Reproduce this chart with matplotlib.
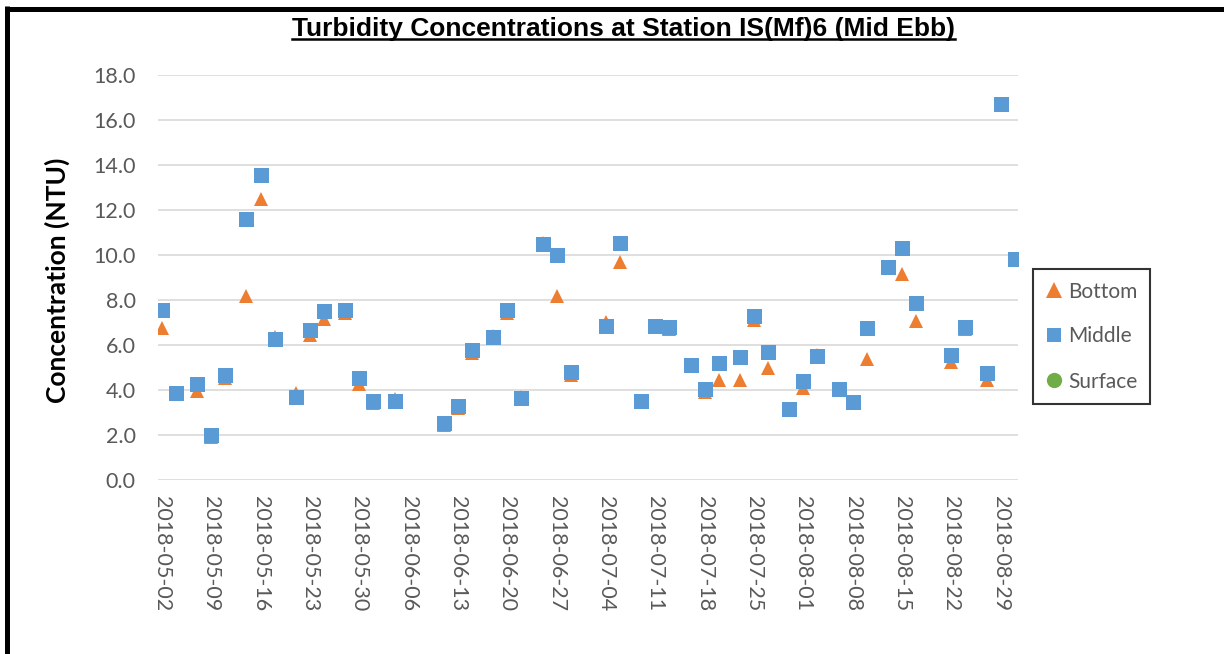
import matplotlib
matplotlib.use("Agg")
import matplotlib.pyplot as plt
from matplotlib.lines import Line2D
import datetime as dt

dates = ["2018-05-02", "2018-05-04", "2018-05-07", "2018-05-09", "2018-05-11",
         "2018-05-14", "2018-05-16", "2018-05-18", "2018-05-21", "2018-05-23",
         "2018-05-25", "2018-05-28", "2018-05-30", "2018-06-01", "2018-06-04",
         "2018-06-11", "2018-06-13", "2018-06-15", "2018-06-18", "2018-06-20",
         "2018-06-22", "2018-06-25", "2018-06-27", "2018-06-29", "2018-07-04",
         "2018-07-06", "2018-07-09", "2018-07-11", "2018-07-13", "2018-07-16",
         "2018-07-18", "2018-07-20", "2018-07-23", "2018-07-25", "2018-07-27",
         "2018-07-30", "2018-08-01", "2018-08-03", "2018-08-06", "2018-08-08",
         "2018-08-10", "2018-08-13", "2018-08-15", "2018-08-17", "2018-08-22",
         "2018-08-24", "2018-08-27", "2018-08-29", "2018-08-31"]

bottom = [6.75, 3.8, 3.94, 1.91, 4.53,
          8.15, 12.46, 6.34, 3.85, 6.44,
          7.14, 7.4, 4.24, 3.4, 3.59,
          2.44, 3.2, 5.64, 6.37, 7.4,
          3.68, 10.52, 8.15, 4.64, 7.0,
          9.69, 3.45, 6.8, 6.68, 5.05,
          3.9, 4.44, 4.44, 7.1, 4.98,
          3.12, 4.06, 5.54, 4.0, 3.4,
          5.35, 9.4, 9.14, 7.04, 5.24,
          6.68, 4.44, 16.65, 9.75]

middle = [7.54, 3.84, 4.25, 1.99, 4.64,
          11.59, 13.56, 6.24, 3.69, 6.64,
          7.48, 7.54, 4.53, 3.48, 3.48,
          2.51, 3.28, 5.76, 6.36, 7.54,
          3.63, 10.46, 9.99, 4.79, 6.83,
          10.51, 3.51, 6.83, 6.79, 5.08,
          4.04, 5.2, 5.47, 7.28, 5.69,
          3.16, 4.39, 5.48, 4.04, 3.47,
          6.76, 9.45, 10.3, 7.84, 5.54,
          6.79, 4.74, 16.7, 9.81]

surface = []  # no surface data plotted

tick_dates = ["2018-05-02", "2018-05-09", "2018-05-16", "2018-05-23", "2018-05-30",
              "2018-06-06", "2018-06-13", "2018-06-20", "2018-06-27", "2018-07-04",
              "2018-07-11", "2018-07-18", "2018-07-25", "2018-08-01", "2018-08-08",
              "2018-08-15", "2018-08-22", "2018-08-29"]
y_ticks = [0, 2, 4, 6, 8, 10, 12, 14, 16, 18]

ORANGE = "#ED7D31"
BLUE = "#5B9BD5"
GREEN = "#70AD47"
GRAY = "#595959"

W, H = 1224, 654
fig = plt.figure(figsize=(W / 100, H / 100), dpi=100)
fig.patch.set_facecolor("white")

x = [dt.datetime.strptime(d, "%Y-%m-%d") for d in dates]
xt = [dt.datetime.strptime(d, "%Y-%m-%d") for d in tick_dates]

ax = fig.add_axes([158 / W, 1 - 479.7 / H, (1018 - 158) / W, (479.7 - 74.7) / H])
ax.plot(x, bottom, linestyle="none", marker="^", ms=10.5, color=ORANGE,
        markeredgewidth=0, label="Bottom", zorder=3)
ax.plot(x, middle, linestyle="none", marker="s", ms=10.8, color=BLUE,
        markeredgewidth=0, label="Middle", zorder=4)
ax.plot(surface, surface, linestyle="none", marker="o", ms=10, color=GREEN,
        markeredgewidth=0, label="Surface")

ax.set_ylim(0, 18)
ax.set_yticks(y_ticks)
ax.set_yticklabels([f"{v:.1f}" for v in y_ticks])
ax.set_xlim(x[0] - dt.timedelta(days=0.55), x[-1] + dt.timedelta(days=0.45))
ax.set_xticks(xt)
ax.set_xticklabels(tick_dates, rotation=270)

ax.grid(axis="y", color="#D9D9D9", linewidth=1.2)
ax.set_axisbelow(True)
for s in ax.spines.values():
    s.set_visible(False)
ax.tick_params(axis="both", length=0, colors=GRAY, labelsize=15.5)
ax.tick_params(axis="x", pad=12)
ax.tick_params(axis="y", pad=16)
for lbl in ax.get_xticklabels() + ax.get_yticklabels():
    lbl.set_fontfamily(["Lato", "DejaVu Sans"])

fig.text(57 / W, 1 - 280 / H, "Concentration (NTU)", rotation=90, ha="center",
         va="center", fontsize=19, fontweight="bold", family=["Lato", "DejaVu Sans"],
         color="black")

title = fig.text(623.5 / W, 1 - 29 / H, "Turbidity Concentrations at Station IS(Mf)6 (Mid Ebb)",
                 ha="center", va="center", fontsize=19, fontweight="bold",
                 family=["Liberation Sans", "DejaVu Sans"],
                 color="black")

leg = fig.legend(handles=[Line2D([], [], linestyle="none", marker="^", ms=11, color=ORANGE, markeredgewidth=0),
                          Line2D([], [], linestyle="none", marker="s", ms=10, color=BLUE, markeredgewidth=0),
                          Line2D([], [], linestyle="none", marker="o", ms=11, color=GREEN, markeredgewidth=0)],
                 labels=["Bottom", "Middle", "Surface"],
                 loc="center", bbox_to_anchor=(1091.5 / W, 1 - 336.5 / H),
                 frameon=True, fancybox=False, edgecolor="black", handlelength=0.8,
                 handletextpad=0.3, labelspacing=1.2, borderpad=0.6,
                 prop={"family": ["Lato", "DejaVu Sans"], "size": 15})
leg.get_frame().set_linewidth(1.5)
for t in leg.get_texts():
    t.set_color(GRAY)

# outer frame (top and left)
fig.add_artist(Line2D([4.5 / W, 1], [1 - 8.5 / H, 1 - 8.5 / H], color="black",
                      linewidth=3.6, transform=fig.transFigure, solid_capstyle="butt"))
fig.add_artist(Line2D([6.5 / W, 6.5 / W], [0, 1 - 6 / H], color="black",
                      linewidth=3.6, transform=fig.transFigure, solid_capstyle="butt"))

# underline for title
fig.canvas.draw()
r = fig.canvas.get_renderer()
bb = title.get_window_extent(renderer=r)
inv = fig.transFigure.inverted()
(x0, y0), (x1, y1) = inv.transform([[bb.x0, bb.y0], [bb.x1, bb.y1]])
fig.add_artist(Line2D([x0, x1], [y0 + 2 / H, y0 + 2 / H], color="black", linewidth=1.8,
                      transform=fig.transFigure))

fig.savefig("out.png", dpi=100)
